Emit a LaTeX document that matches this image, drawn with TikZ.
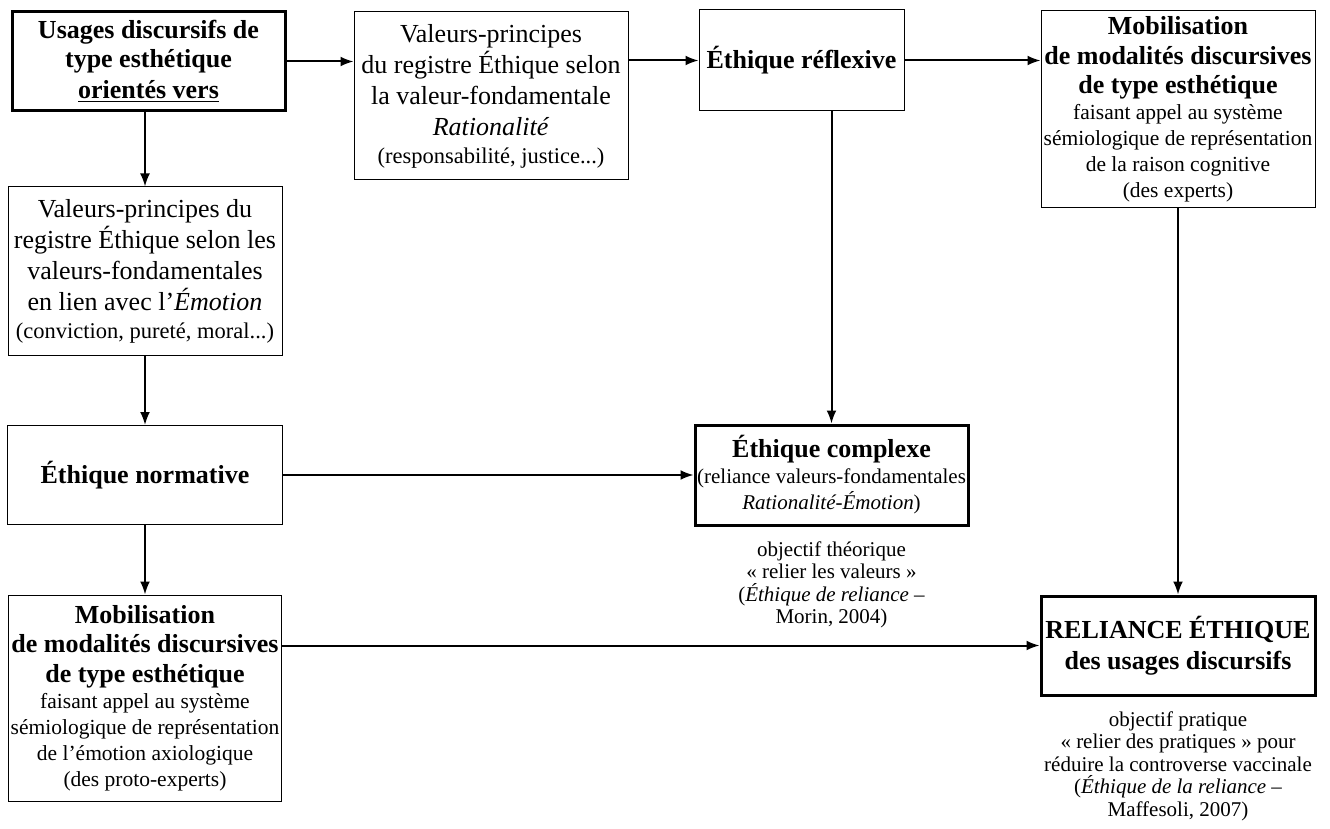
\documentclass[tikz,border=0pt]{standalone}
\usepackage{fontspec}
\setmainfont{Liberation Serif}
\usetikzlibrary{positioning, arrows.meta}

\tikzset{
  box/.style={draw, line width=0.5pt, align=flush center, inner sep=0pt, font=\fontsize{13}{15.5}\selectfont},
  mainbox/.style={box, line width=1.5pt},
  note/.style={align=center, inner sep=0pt, font=\fontsize{10.5}{11.25}\selectfont},
}
\newcommand{\headbf}{\bfseries\fontsize{13}{14.75}\selectfont}
\newcommand{\subtxt}{\fontsize{10.75}{13}\selectfont}
\newcommand{\parentxt}{\fontsize{11.25}{14}\selectfont}

\begin{document}
\begin{tikzpicture}[x=0.5pt, y=-0.5pt, ->, >={Latex[length=6.5pt,width=5pt]}, line width=1pt]
  \useasboundingbox (0,0) rectangle (1330,829);

  % top row
  \node[mainbox, text width=136.5pt, minimum height=49.5pt] (usages) at (148.5,61.5)
    {\headbf Usages discursifs de\\type esthétique\\\underline{orientés vers}};
  \node[box, text width=137pt, minimum height=84pt] (rationalite) at (491,96)
    {Valeurs-principes\\du registre Éthique selon\\la valeur-fondamentale\\\textit{Rationalité}\par
     {\parentxt (responsabilité, justice...)\par}};
  \node[box, text width=102.5pt, minimum height=50.5pt] (reflexive) at (801.5,60.5)
    {\headbf Éthique réflexive};
  \node[box, text width=137pt, minimum height=98.5pt] (expertsmob) at (1178,109.5)
    {{\headbf Mobilisation\\de modalités discursives\\de type esthétique\par}
     {\subtxt faisant appel au système\\\mbox{sémiologique de représentation}\\de la raison cognitive\\(des experts)\par}};

  % left column
  \node[box, text width=137pt, minimum height=84pt] (emotion) at (145,271)
    {Valeurs-principes du\\registre Éthique selon les\\valeurs-fondamentales\\en lien avec l'\textit{Émotion}\par
     {\parentxt (conviction, pureté, moral...)\par}};
  \node[box, text width=137.5pt, minimum height=49.5pt] (normative) at (145,475)
    {\headbf Éthique normative};
  \node[box, text width=136.5pt, minimum height=103pt] (protomob) at (145,698)
    {{\headbf Mobilisation\\de modalités discursives\\de type esthétique\par}
     {\subtxt faisant appel au système\\\mbox{sémiologique de représentation}\\de l'émotion axiologique\\(des proto-experts)\par}};

  % reliance
  \node[mainbox, text width=136.5pt, minimum height=50pt] (complexe) at (831.5,475)
    {{\headbf Éthique complexe\par}
     {\fontsize{10.5}{13}\selectfont \mbox{(reliance valeurs-fondamentales}\\\textit{Rationalité-Émotion})\par}};
  \node[mainbox, text width=137pt, minimum height=49.5pt] (reliance) at (1178,645.5)
    {\bfseries\fontsize{13}{17}\selectfont \mbox{RELIANCE ÉTHIQUE}\\des usages discursifs};

  \node[note, below=7pt of complexe] (theorique)
    {objectif théorique\\« relier les valeurs »\\(\textit{Éthique de reliance} –\\Morin, 2004)};
  \node[note, below=7pt of reliance] (pratique)
    {objectif pratique\\« relier des pratiques » pour\\réduire la controverse vaccinale\\(\textit{Éthique de la reliance} –\\Maffesoli, 2007)};

  \path (usages.east) edge (usages.east -| rationalite.west)
        (reflexive.west -| rationalite.east) edge (reflexive.west)
        (reflexive.east) edge (reflexive.east -| expertsmob.west)
        (usages.south -| emotion.north) edge (emotion)
        (emotion) edge (normative)
        (normative) edge (protomob)
        (normative) edge (complexe)
        (reflexive.south -| complexe.north) edge (complexe)
        (expertsmob) edge (reliance)
        (protomob.east |- reliance.west) edge (reliance.west)
        ;
\end{tikzpicture}
\end{document}
